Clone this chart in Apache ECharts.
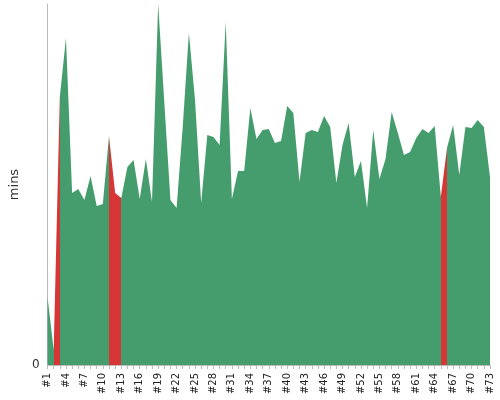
<!DOCTYPE html>
<html><head><meta charset="utf-8">
<script src="https://cdn.jsdelivr.net/npm/echarts@6/dist/echarts.min.js"></script>
<style>html,body{margin:0;padding:0;background:#fff}#c{width:500px;height:400px}</style>
</head><body><div id="c"></div>
<script>
const categories = Array.from({length:73},(_,i)=>'#'+(i+1));
const values = [68,15,268,327,172,176,165,189,159,161,229,172,167,198,205,166,206,163,361,263,165,157,238,332,265,162,230,228,220,343,166,194,194,257,226,235,236,222,224,259,252,183,232,235,233,249,238,182,220,242,188,204,157,235,186,206,253,232,210,213,227,236,232,239,168,217,240,190,238,237,245,238,188];
const redRanges = [[0.5,2.4],[9.5,12.4],[63.5,64.5]];
const chart = echarts.init(document.getElementById('c'));
const pieces = redRanges.map(r=>({gte:r[0],lte:r[1],color:'#d63636'}));
chart.setOption({
  animation:false,
  grid:{left:42,right:10,top:4,bottom:35},
  visualMap:{show:false,dimension:0,pieces:pieces,outOfRange:{color:'#459c6d'}},
  xAxis:{type:'category',data:categories,boundaryGap:false,
    axisLine:{lineStyle:{color:'#bbb'}},axisTick:{interval:0,lineStyle:{color:'#bbb'},length:4},
    axisLabel:{interval:2,rotate:90,fontSize:10,color:'#222',fontFamily:'DejaVu Sans'}},
  yAxis:{type:'value',min:0,max:361,interval:361,name:'mins',nameLocation:'middle',nameGap:26,
    nameTextStyle:{fontSize:13,color:'#333',fontFamily:'DejaVu Sans'},
    axisLine:{show:true,lineStyle:{color:'#bbb'}},splitLine:{show:false},
    axisLabel:{formatter:v=>v===0?'0':'',color:'#333',fontFamily:'DejaVu Sans'}},
  series:[{type:'line',data:values,symbol:'none',lineStyle:{width:0},areaStyle:{opacity:1}}]
});
</script></body></html>
